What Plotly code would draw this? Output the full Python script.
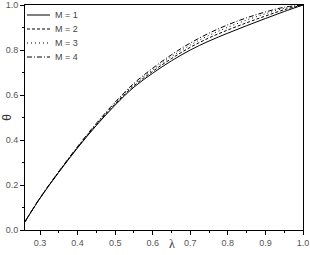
import plotly.graph_objects as go

lam = [0.26, 0.30, 0.35, 0.40, 0.45, 0.50, 0.55, 0.60, 0.65, 0.70, 0.75, 0.80, 0.85, 0.90, 0.95, 1.00]
theta_M1 = [0.037, 0.141, 0.257, 0.365, 0.465, 0.555, 0.635, 0.697, 0.752, 0.800, 0.840, 0.875, 0.908, 0.940, 0.971, 1.0]
theta_M2 = [0.037, 0.142, 0.258, 0.367, 0.468, 0.560, 0.641, 0.705, 0.762, 0.812, 0.854, 0.889, 0.921, 0.951, 0.979, 1.0]
theta_M3 = [0.037, 0.142, 0.259, 0.369, 0.471, 0.564, 0.647, 0.712, 0.771, 0.822, 0.865, 0.901, 0.933, 0.961, 0.985, 1.0]
theta_M4 = [0.037, 0.143, 0.260, 0.371, 0.474, 0.568, 0.652, 0.719, 0.779, 0.831, 0.875, 0.912, 0.943, 0.969, 0.990, 1.0]
names = ["M = 1", "M = 2", "M = 3", "M = 4"]
dashes = ["solid", "3px,2px", "1px,3px", "5px,2px,1px,2px"]

W, H = 310, 255
ML, MR, MT, MB = 25, 7, 5, 25
PW, PH = W - ML - MR, H - MT - MB

fig = go.Figure()
for name, ys, d in zip(names, [theta_M1, theta_M2, theta_M3, theta_M4], dashes):
    fig.add_trace(go.Scatter(x=lam, y=ys, mode="lines", name=name, showlegend=False,
                             line=dict(color="black", width=1, dash=d, shape="spline")))

# manual compact legend (top-left, inside plot)
for i, (name, d) in enumerate(zip(names, dashes)):
    py = 15 + 14 * i
    yp = (H - MB - py) / PH
    fig.add_shape(type="line", xref="paper", yref="paper",
                  x0=(27 - ML) / PW, x1=(50 - ML) / PW, y0=yp, y1=yp,
                  line=dict(color="black", width=1, dash=d))
    fig.add_annotation(text=name, xref="paper", yref="paper", x=(53 - ML) / PW, y=yp,
                       xanchor="left", yanchor="middle", showarrow=False,
                       font=dict(family="Liberation Sans", size=9, color="#444"))

axis_common = dict(showline=True, linecolor="black", linewidth=1, mirror=True,
                   ticks="outside", ticklen=4, tickcolor="black", tickwidth=1,
                   showgrid=False, zeroline=False, automargin=False,
                   tickfont=dict(family="Liberation Sans", size=9, color="#555"),
                   minor=dict(ticks="outside", ticklen=2, tickcolor="black", tickwidth=1, showgrid=False))

fig.update_xaxes(range=[0.26, 1.0], dtick=0.1, tick0=0.3, tickformat=".1f",
                 minor_dtick=0.05, **axis_common)
fig.update_yaxes(range=[0.0, 1.0], dtick=0.2, tickformat=".1f",
                 minor_dtick=0.1, title=dict(text="θ", standoff=2,
                 font=dict(family="Liberation Sans", size=12, color="#333")), **axis_common)

fig.add_annotation(text="λ", xref="paper", yref="paper", x=(172 - ML) / PW, y=-14 / PH,
                   showarrow=False, yanchor="middle", xanchor="center",
                   font=dict(family="Liberation Serif", size=12, color="#333"))

fig.update_layout(width=W, height=H, margin=dict(l=ML, r=MR, t=MT, b=MB),
                  plot_bgcolor="white", paper_bgcolor="white", showlegend=False)

fig.write_html("out.html", config={"displayModeBar": False},
               post_script="document.body.style.margin='0px';")
